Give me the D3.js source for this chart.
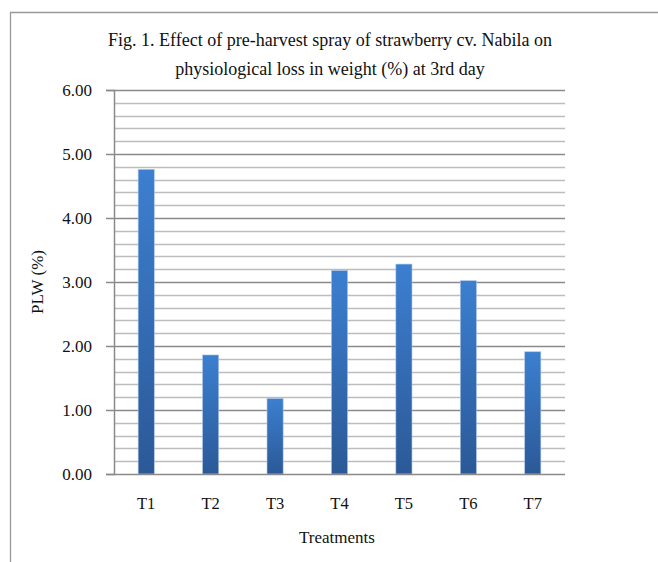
<!DOCTYPE html>
<html><head><meta charset="utf-8">
<script src="https://cdn.jsdelivr.net/npm/d3@7"></script>
<style>body{margin:0;background:#fff}svg{display:block}text{font-family:"Liberation Serif","DejaVu Serif",serif;fill:#111}</style>
</head><body><svg id="c" width="658" height="562"></svg>
<script>
const categories = ["T1","T2","T3","T4","T5","T6","T7"];
const values = [4.76, 1.86, 1.18, 3.18, 3.28, 3.02, 1.91];
const yTicks = [0,1,2,3,4,5,6];
const titleLines = ["Fig. 1. Effect of pre-harvest spray of strawberry cv. Nabila on","physiological loss in weight (%) at 3rd day"];

const svg = d3.select("#c");
const m = {l:114, r:565, t:90, b:474};
const x = d3.scaleBand().domain(categories).range([m.l, m.r]).paddingInner(0.75).paddingOuter(0.375);
const y = d3.scaleLinear().domain([0,6]).range([m.b, m.t]);

// frame
svg.append("path").attr("d","M10.5,562 L10.5,12.5 L658,12.5").attr("fill","none").attr("stroke","#999").attr("stroke-width",1.3);

const defs = svg.append("defs");
const g = defs.append("linearGradient").attr("id","bg").attr("x1",0).attr("y1",0).attr("x2",0).attr("y2",1);
g.append("stop").attr("offset","0%").attr("stop-color","#3c7fd0");
g.append("stop").attr("offset","100%").attr("stop-color","#2b5997");

// minor gridlines
const minor = d3.range(0, 6.001, 0.2).filter(v => Math.abs(v - Math.round(v)) > 1e-6);
svg.append("g").selectAll("line").data(minor).join("line")
  .attr("x1", m.l).attr("x2", m.r)
  .attr("y1", d => Math.round(y(d))+0.5).attr("y2", d => Math.round(y(d))+0.5)
  .attr("stroke","#bdbdbd").attr("stroke-width",1.5);
// major gridlines
svg.append("g").selectAll("line").data(yTicks.filter(d=>d>0)).join("line")
  .attr("x1", m.l).attr("x2", m.r)
  .attr("y1", d => Math.round(y(d))+0.5).attr("y2", d => Math.round(y(d))+0.5)
  .attr("stroke","#8a8a8a").attr("stroke-width",1.5);

// bars
svg.append("g").selectAll("rect").data(values).join("rect")
  .attr("x",(d,i)=>x(categories[i])).attr("width",x.bandwidth())
  .attr("y",d=>y(d)).attr("height",d=>y(0)-y(d))
  .attr("fill","url(#bg)").attr("stroke","#a9c4e6").attr("stroke-width",0.6);

// y axis
const ya = d3.axisLeft(y).tickValues(yTicks).tickFormat(d3.format(".2f")).tickSize(8).tickPadding(14);
const yg = svg.append("g").attr("transform",`translate(${m.l},0)`).call(ya);
yg.attr("font-family",null);
yg.select(".domain").attr("stroke","#8a8a8a").attr("stroke-width",1.5);
yg.selectAll(".tick line").attr("stroke","#8a8a8a").attr("stroke-width",1.5);
yg.selectAll("text").style("font-family",'"Liberation Serif",serif').style("font-size","17px").attr("fill","#111");

// x axis
const xa = d3.axisBottom(x).tickSize(0).tickPadding(23);
const xg = svg.append("g").attr("transform",`translate(0,${m.b})`).call(xa);
xg.attr("font-family",null);
xg.select(".domain").attr("d",`M${m.l},0.5H${m.r}`).attr("stroke","#8a8a8a").attr("stroke-width",1.5);
xg.selectAll("text").style("font-family",'"Liberation Serif",serif').style("font-size","16.5px").attr("fill","#111");

// titles
svg.append("g").selectAll("text").data(titleLines).join("text")
  .attr("x",330).attr("y",(d,i)=>46+i*29).attr("text-anchor","middle")
  .style("font-size","18px").text(d=>d);

svg.append("text").attr("x",337).attr("y",543).attr("text-anchor","middle").style("font-size","17px").text("Treatments");
svg.append("text").attr("transform","translate(43,282) rotate(-90)").attr("text-anchor","middle").style("font-size","17px").text("PLW (%)");
</script></body></html>
